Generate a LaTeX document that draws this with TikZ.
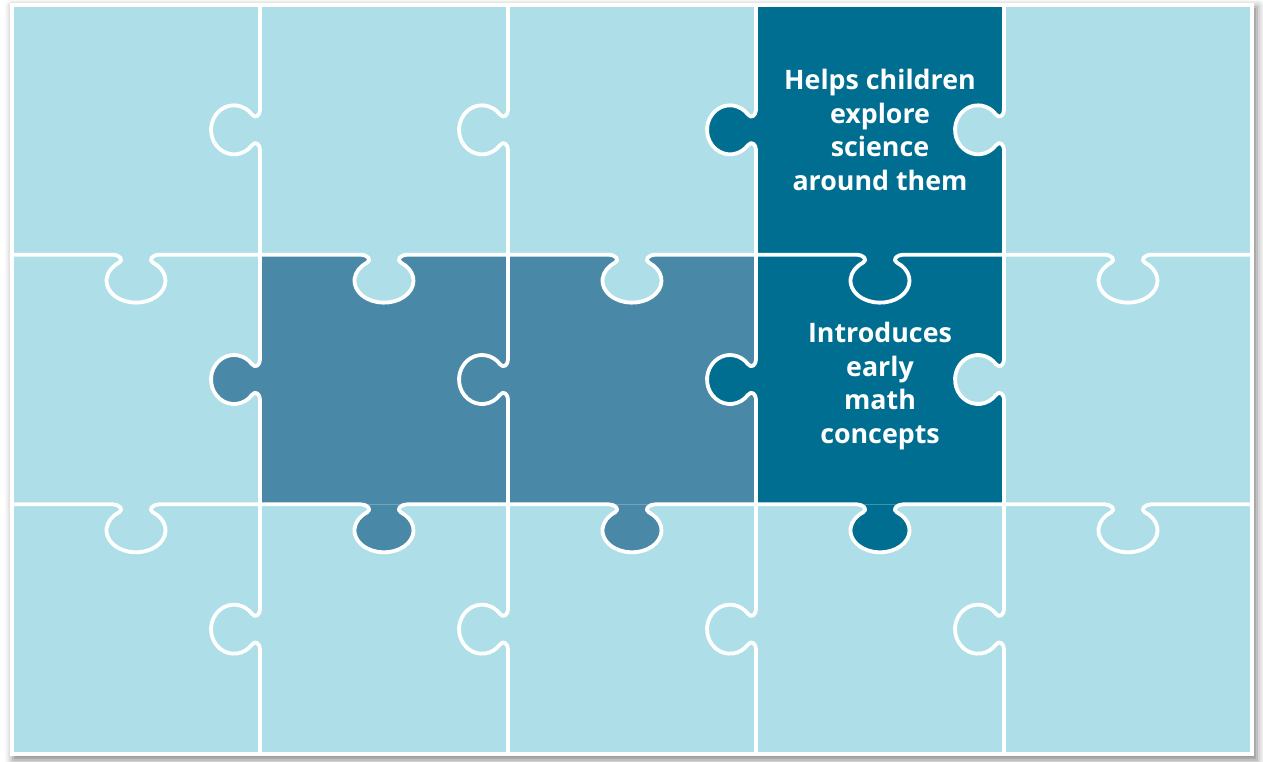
\documentclass[tikz,border=0pt]{standalone}
\usepackage{fontspec}
\setmainfont{Open Sans}
\usetikzlibrary{shadows.blur}
\definecolor{tilelight}{HTML}{AEDFE8}
\definecolor{tilemid}{HTML}{4A88A8}
\definecolor{tiledark}{HTML}{006E91}

% tab shapes, drawn on the u axis and bulging towards +v
\newcommand\vtab{(-20,0) .. controls (-15,0) and (-10.5,4.4) .. (-15.3,8)
  arc[start angle=231.4,end angle=-51.4,x radius=24.5,y radius=23]
  .. controls (10.5,4.4) and (15,0) .. (20,0)}
\newcommand\htab{(-23,0) .. controls (-17,0) and (-11.65,5.2) .. (-16.96,8)
  arc[start angle=234.9,end angle=-54.9,x radius=29.5,y radius=22]
  .. controls (11.65,5.2) and (17,0) .. (23,0)}

\begin{document}
\begin{tikzpicture}[x=0.5pt,y=0.5pt,
  seam/.style={draw=white,line width=1.9pt,line cap=round,line join=round},
  tiletext/.style={font=\bfseries\fontsize{13.4}{16.85}\selectfont,text=white,align=center}
]
  \useasboundingbox (-12,-7) rectangle (1251,754);
  \fill[white,blur shadow={shadow xshift=1.5pt,shadow yshift=-2pt,shadow blur radius=4pt,shadow opacity=50}]
    (-2,-2) rectangle (1242,751);

  \fill[tilelight] (0,0) rectangle (1240,749);
  \fill[tilemid] (248,249.67) rectangle (744,499.33);
  \fill[tiledark] (744,249.67) rectangle (992,749);

  % tabs on the upright seams, owned by the piece on the right
  \foreach \i/\r/\kc in {3/0/tiledark,4/0/tilelight,1/1/tilemid,3/1/tiledark,4/1/tilelight}
    \fill[\kc,shift={({248*\i},{749-249.67*(\r+0.5)})},rotate=90] \vtab -- cycle;
  % tabs on the level seams, owned by the piece above
  \foreach \c/\r/\kc in {1/1/tilelight,2/1/tilelight,1/2/tilemid,2/2/tilemid,3/2/tiledark}
    \fill[\kc,shift={({248*(\c+0.5)},{749-249.67*\r})},rotate=180] \htab -- cycle;

  \foreach \i in {1,...,4}
    \foreach \r in {0,1,2}
      \draw[seam,shift={({248*\i},{749-249.67*(\r+0.5)})},rotate=90]
        \vtab (-124.83,0) -- (-20,0) (20,0) -- (124.83,0);
  \foreach \c in {0,...,4}
    \foreach \r in {1,2}
      \draw[seam,shift={({248*(\c+0.5)},{749-249.67*\r})},rotate=180]
        \htab (-124,0) -- (-23,0) (23,0) -- (124,0);
  \draw[seam] (0,0) rectangle (1240,749);

  \node[tiletext] (science) at (868,624) {Helps children\\explore\\science\\around them};
  \node[tiletext] (math) at (868,368) {Introduces\\early\\math\\concepts};
\end{tikzpicture}
\end{document}
